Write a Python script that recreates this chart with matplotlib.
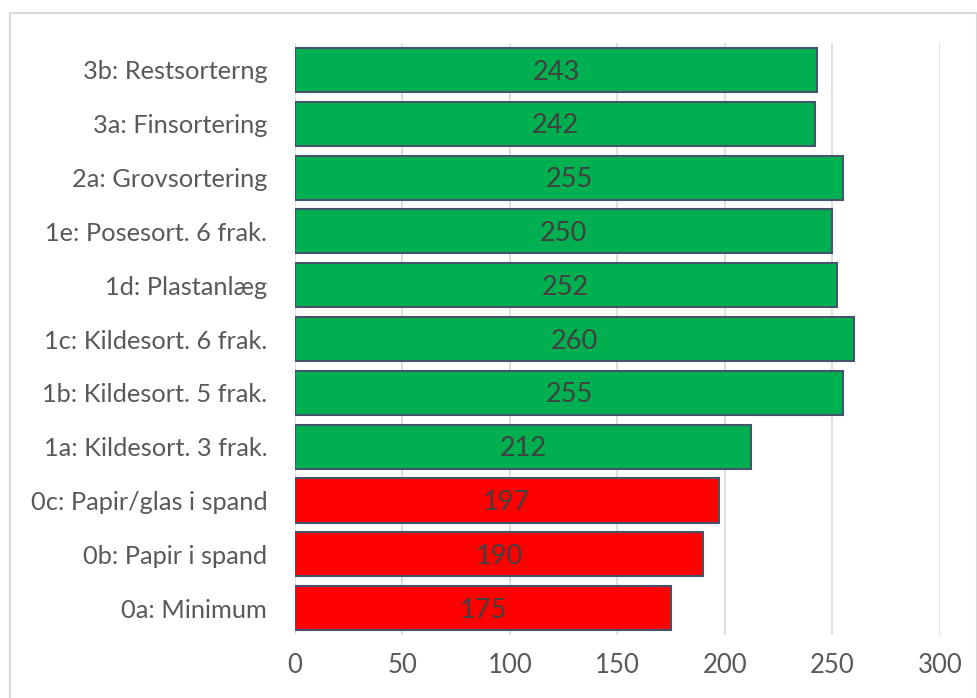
import matplotlib.pyplot as plt
from matplotlib.patches import Rectangle

# data, listed bottom to top
categories = ["0a: Minimum", "0b: Papir i spand", "0c: Papir/glas i spand",
              "1a: Kildesort. 3 frak.", "1b: Kildesort. 5 frak.", "1c: Kildesort. 6 frak.",
              "1d: Plastanlæg", "1e: Posesort. 6 frak.", "2a: Grovsortering",
              "3a: Finsortering", "3b: Restsorterng"]
values = [175, 190, 197, 212, 255, 260, 252, 250, 255, 242, 243]
colors = ["#FF0000"] * 3 + ["#00B050"] * 8
xticks = [0, 50, 100, 150, 200, 250, 300]

plt.rcParams['font.family'] = ['Lato', 'DejaVu Sans']

fig = plt.figure(figsize=(9.78, 6.98), dpi=100)
ax = fig.add_axes([0.3016, 0.0903, 0.6595, 0.848])

# chart frame
fig.patches.append(Rectangle((10 / 978, -0.05), 967 / 978, 1.05 - 13 / 698,
                             transform=fig.transFigure, fill=False,
                             edgecolor="#D9D9D9", linewidth=1.5))

ypos = range(len(categories))
bars = ax.barh(ypos, values, height=0.82, color=colors,
               edgecolor="#44546A", linewidth=1.5, zorder=2)

for y, v in zip(ypos, values):
    ax.text(v / 2, y - 0.04, str(v), ha="center", va="center",
            fontsize=19.5, color="#404040", zorder=3)

ax.set_xlim(0, 300)
ax.set_ylim(-0.5, len(categories) - 0.5)
ax.set_xticks(xticks)
ax.set_yticks(list(ypos))
ax.set_yticklabels(categories)
ax.tick_params(axis="x", length=0, pad=13, labelsize=18.5, labelcolor="#595959")
ax.tick_params(axis="y", length=0, pad=20, labelsize=18.3, labelcolor="#595959")

ax.grid(axis="x", color="#D9D9D9", linewidth=1.2, zorder=0)
ax.set_axisbelow(True)
for s in ax.spines.values():
    s.set_visible(False)

fig.savefig("out.png", dpi=100)
